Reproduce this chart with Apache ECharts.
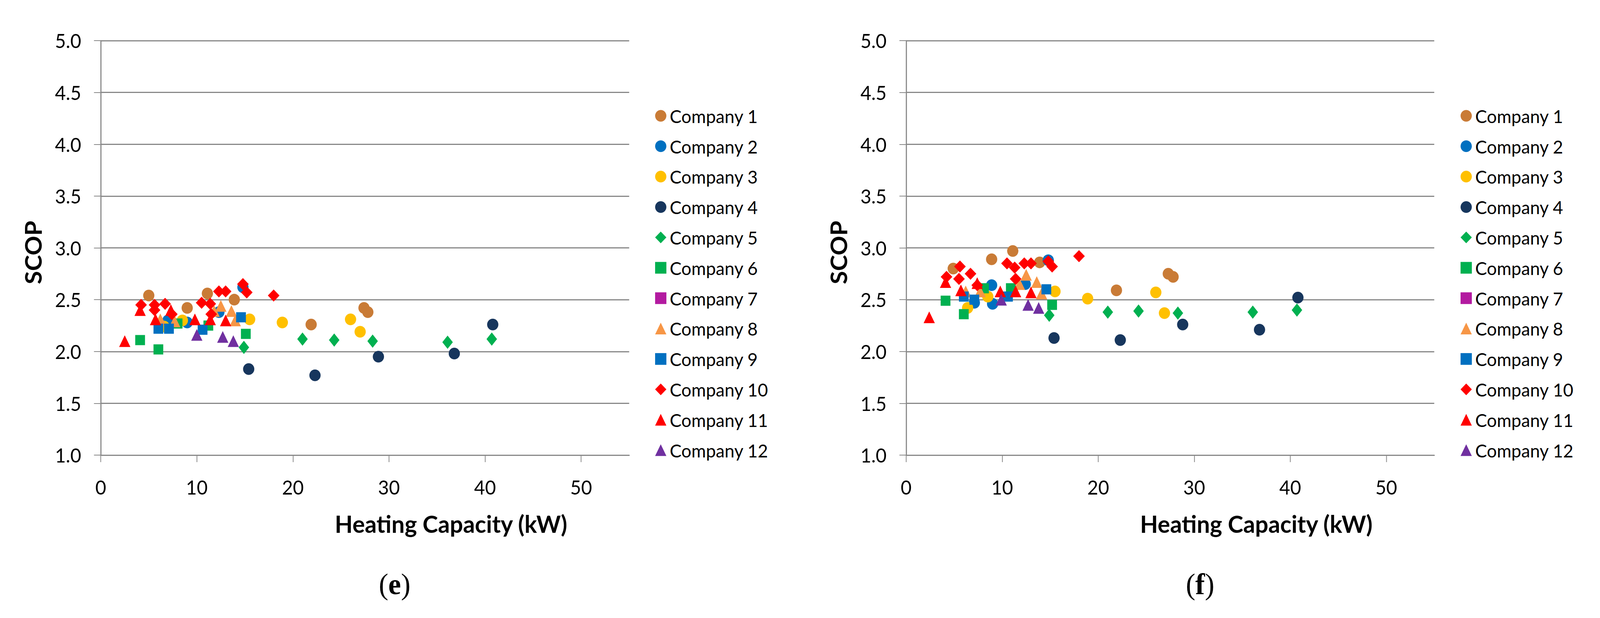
<!DOCTYPE html>
<html>
<head>
<meta charset="utf-8">
<script src="https://cdn.jsdelivr.net/npm/echarts@6/dist/echarts.min.js"></script>
<style>
html,body{margin:0;padding:0;background:#fff;overflow:hidden;}
#chart{width:4257px;height:1582px;transform-origin:0 0;}
</style>
</head>
<body>
<div id="chart"></div>
<script>
// ---- Data (Heating capacity kW, SCOP) ----
var companies = ['Company 1','Company 2','Company 3','Company 4','Company 5','Company 6','Company 7','Company 8','Company 9','Company 10','Company 11','Company 12'];
var colors = ['#C97B36','#0070C0','#FFC000','#17365D','#00B050','#00B050','#B31AA0','#F79646','#0070C0','#FF0000','#FF0000','#7030A0'];
var symbols = ['circle','circle','circle','circle','diamond','rect','rect','triangle','rect','diamond','triangle','triangle'];
var symbolSizes = [30,30,30,30,[28,34],26,26,[30,30],26,[31,31],[30,30],[30,30]];

// Panel (e)
var e_c1 = [[5.0,2.54],[11.1,2.56],[9.0,2.42],[13.9,2.50],[21.9,2.26],[27.4,2.42],[27.8,2.38]];
var e_c2 = [[14.8,2.62],[9.0,2.28],[12.3,2.38],[7.0,2.30]];
var e_c3 = [[6.6,2.24],[8.5,2.30],[15.5,2.31],[18.9,2.28],[26.0,2.31],[27.0,2.19]];
var e_c4 = [[15.4,1.83],[22.3,1.77],[28.9,1.95],[36.8,1.98],[40.8,2.26]];
var e_c5 = [[14.9,2.04],[21.0,2.12],[24.3,2.11],[28.3,2.10],[36.1,2.09],[40.7,2.12]];
var e_c6 = [[4.1,2.11],[6.0,2.02],[15.1,2.17],[8.0,2.27],[11.2,2.25]];
var e_c7 = [];
var e_c8 = [[6.2,2.31],[7.7,2.29],[12.5,2.44],[11.8,2.39],[13.6,2.39],[14.0,2.30]];
var e_c9 = [[6.0,2.22],[7.1,2.22],[10.6,2.21],[14.6,2.33]];
var e_c10 = [[4.2,2.45],[5.6,2.45],[6.7,2.46],[5.6,2.40],[7.4,2.36],[10.5,2.47],[11.4,2.46],[11.5,2.36],[12.3,2.58],[13.0,2.58],[14.8,2.65],[15.2,2.57],[18.0,2.54]];
var e_c11 = [[2.5,2.10],[4.1,2.40],[5.7,2.31],[7.3,2.40],[9.8,2.31],[11.4,2.31],[13.0,2.30]];
var e_c12 = [[10.0,2.16],[12.7,2.14],[13.8,2.10]];

// Panel (f)
var f_c1 = [[4.9,2.80],[8.9,2.89],[11.1,2.97],[13.9,2.86],[21.9,2.59],[27.3,2.75],[27.8,2.72]];
var f_c2 = [[14.8,2.88],[8.9,2.64],[12.4,2.65],[7.1,2.47],[9.0,2.46]];
var f_c3 = [[6.4,2.42],[8.5,2.53],[15.5,2.58],[18.9,2.51],[26.0,2.57],[26.9,2.37]];
var f_c4 = [[15.4,2.13],[22.3,2.11],[28.8,2.26],[36.8,2.21],[40.8,2.52]];
var f_c5 = [[14.9,2.35],[21.0,2.38],[24.2,2.39],[28.3,2.37],[36.1,2.38],[40.7,2.40]];
var f_c6 = [[4.1,2.49],[6.0,2.36],[15.2,2.45],[8.1,2.61],[10.9,2.61]];
var f_c7 = [];
var f_c8 = [[6.2,2.58],[7.7,2.58],[12.5,2.74],[11.8,2.65],[13.6,2.67],[14.1,2.56]];
var f_c9 = [[6.0,2.53],[7.1,2.50],[10.6,2.53],[14.6,2.60]];
var f_c10 = [[4.2,2.72],[5.6,2.82],[5.5,2.70],[6.7,2.75],[7.4,2.64],[10.5,2.85],[11.3,2.81],[11.4,2.70],[12.3,2.85],[13.0,2.85],[14.8,2.87],[15.2,2.82],[18.0,2.92]];
var f_c11 = [[2.4,2.33],[4.1,2.67],[5.7,2.59],[7.4,2.66],[9.8,2.58],[11.4,2.58],[13.0,2.57]];
var f_c12 = [[9.9,2.50],[12.7,2.45],[13.8,2.42]];

var panelE = [e_c1,e_c2,e_c3,e_c4,e_c5,e_c6,e_c7,e_c8,e_c9,e_c10,e_c11,e_c12];
var panelF = [f_c1,f_c2,f_c3,f_c4,f_c5,f_c6,f_c7,f_c8,f_c9,f_c10,f_c11,f_c12];

var xTitle = 'Heating Capacity (kW)';
var yTitle = 'SCOP';
var panelLabels = ['e','f'];

var FONT = 'Lato, "Open Sans", sans-serif';
var GRAY = '#888888';

// fit the 4257x1582 design into the actual viewport
var W = 4257, H = 1582;
var vw = window.innerWidth || W, vh = window.innerHeight || H;
document.getElementById('chart').style.transform = 'scale(' + (vw / W) + ',' + (vh / H) + ')';

function makeX(idx){
  return {
    type:'value', gridIndex:idx, min:0, max:55, interval:10,
    name:xTitle, nameLocation:'middle', nameGap:144,
    nameTextStyle:{fontFamily:FONT, fontWeight:'bold', fontSize:62, color:'#000', padding:[0,0,0,458]},
    axisLine:{show:true, lineStyle:{color:GRAY, width:3}},
    axisTick:{show:true, inside:false, length:18, lineStyle:{color:GRAY, width:2}},
    axisLabel:{fontFamily:FONT, fontSize:50, color:'#000', margin:57, showMaxLabel:false},
    splitLine:{show:false}
  };
}
function makeY(idx){
  return {
    type:'value', gridIndex:idx, min:1, max:5, interval:0.5,
    name:yTitle, nameLocation:'middle', nameGap:150, nameRotate:90,
    nameTextStyle:{fontFamily:FONT, fontWeight:'bold', fontSize:62, color:'#000', padding:[0,24,0,0]},
    axisLine:{show:true, lineStyle:{color:GRAY, width:3}},
    axisTick:{show:true, inside:false, length:18, lineStyle:{color:GRAY, width:2}},
    axisLabel:{fontFamily:FONT, fontSize:50, color:'#000', margin:52,
      formatter:function(v){return v.toFixed(1);}},
    splitLine:{show:true, lineStyle:{color:GRAY, width:3}}
  };
}

var series = [];
[panelE, panelF].forEach(function(panel, p){
  panel.forEach(function(d, i){
    series.push({
      type:'scatter', name:companies[i], xAxisIndex:p, yAxisIndex:p,
      data:d, symbol:symbols[i], symbolSize:symbolSizes[i],
      itemStyle:{color:colors[i], opacity:1},
      emphasis:{disabled:true}, z:2+i
    });
  });
});

function makeLegend(left){
  return {
    orient:'vertical', left:left, top:268, itemWidth:30, itemHeight:30, itemGap:30.8,
    selectedMode:false,
    textStyle:{fontFamily:FONT, fontSize:47, color:'#000', padding:[0,0,0,4]},
    data:companies.map(function(n,i){return {name:n, icon:symbols[i]};})
  };
}

function panelLabel(x, t){
  var rich = {
    p:{fontFamily:'"Liberation Serif", serif', fontSize:76, fill:'#000'},
    b:{fontFamily:'"Liberation Serif", serif', fontSize:76, fontWeight:'bold', fill:'#000'}
  };
  return {type:'text', x:x, y:1496, style:{text:'{p|(}{b|'+t+'}{p|)}', rich:rich, align:'center', verticalAlign:'middle'}};
}

var chart = echarts.init(document.getElementById('chart'), null, {renderer:'svg', width:W, height:H});
chart.setOption({
  backgroundColor:'#fff',
  animation:false,
  grid:[
    {left:268, top:104, width:1406, height:1061},
    {left:2411, top:104, width:1405, height:1061}
  ],
  xAxis:[makeX(0), makeX(1)],
  yAxis:[makeY(0), makeY(1)],
  legend:[makeLegend(1738), makeLegend(3881)],
  graphic:[panelLabel(1050, panelLabels[0]), panelLabel(3193, panelLabels[1])],
  series:series
});
</script>
</body>
</html>
